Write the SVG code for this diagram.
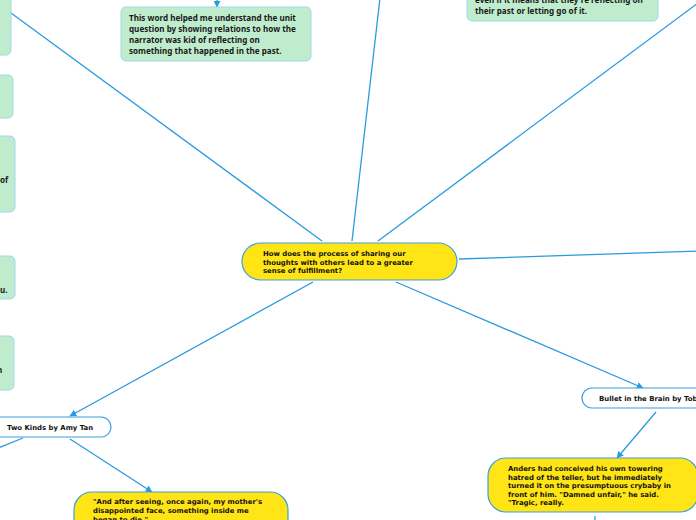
<svg xmlns="http://www.w3.org/2000/svg" width="696" height="520" viewBox="0 0 696 520">
<defs>
<marker id="ah" viewBox="0 0 10 10" refX="9" refY="5" markerWidth="7" markerHeight="7" orient="auto" markerUnits="userSpaceOnUse">
<path d="M0,0 L10,5 L0,10 z" fill="#2b9be0"/>
</marker>
<style>
.ln{stroke:#2b9be0;stroke-width:1.3;fill:none}
.arr{marker-end:url(#ah)}
.grn{fill:#c0ecce;stroke:#9dd8ea;stroke-width:1}
.yel{fill:#ffe516;stroke:#3aa0e0;stroke-width:1.2}
.wht{fill:#ffffff;stroke:#3aa0e0;stroke-width:1.2}
.gt{font-family:"Noto Sans","Open Sans",sans-serif;font-weight:bold;font-size:8.1px;fill:#1a1a1a}
.pt{font-family:"DejaVu Sans",Verdana,sans-serif;font-weight:bold;font-size:6.9px;fill:#111}
</style>
</defs>
<g id="connectors">
<line class="ln" x1="11" y1="13" x2="322" y2="241"/>
<line class="ln" x1="380" y1="-2" x2="352" y2="241"/>
<line class="ln" x1="698" y1="3" x2="378" y2="241"/>
<line class="ln" x1="459" y1="259" x2="698" y2="251"/>
<line class="ln arr" x1="396" y1="282" x2="643" y2="388"/>
<line class="ln arr" x1="313" y1="282" x2="70" y2="416"/>
<line class="ln arr" x1="70" y1="439" x2="152" y2="492"/>
<line class="ln" x1="23" y1="438" x2="-2" y2="448"/>
<line class="ln arr" x1="656" y1="412" x2="617" y2="458"/>
<line class="ln" x1="595" y1="516" x2="595" y2="522"/>
<line class="ln arr" x1="217" y1="-5" x2="217" y2="7"/>
</g>
<g id="g1"><rect class="grn" x="-20" y="-20" width="31" height="75" rx="5"/></g>
<g id="g2"><rect class="grn" x="-20" y="75" width="33" height="43" rx="5"/></g>
<g id="g3"><rect class="grn" x="-20" y="136" width="35" height="76" rx="5"/><text class="gt" x="0" y="183">of</text></g>
<g id="g4"><rect class="grn" x="-20" y="256" width="35" height="43" rx="5"/><text class="gt" x="0" y="293">u.</text></g>
<g id="g5"><rect class="grn" x="-20" y="336" width="34" height="54" rx="5"/><text class="gt" x="-3" y="373">n</text></g>
<g id="gtop"><rect class="grn" x="121" y="7" width="190" height="54" rx="5"/>
<text class="gt" x="129" y="21">This word helped me understand the unit</text>
<text class="gt" x="129" y="32">question by showing relations to how the</text>
<text class="gt" x="129" y="43">narrator was kid of reflecting on</text>
<text class="gt" x="129" y="54">something that happened in the past.</text></g>
<g id="gtr"><rect class="grn" x="467" y="-30" width="191" height="51" rx="5"/>
<text class="gt" x="475" y="3">even if it means that they're reflecting on</text>
<text class="gt" x="475" y="14">their past or letting go of it.</text></g>
<g id="central"><rect class="yel" x="242" y="243" width="215" height="37" rx="18.5"/>
<text class="pt" x="263" y="256">How does the process of sharing our</text>
<text class="pt" x="263" y="265">thoughts with others lead to a greater</text>
<text class="pt" x="263" y="273">sense of fulfillment?</text></g>
<g id="twokinds"><rect class="wht" x="-20" y="417" width="131" height="20" rx="10"/>
<text class="pt" x="7" y="430">Two Kinds by Amy Tan</text></g>
<g id="bullet"><rect class="wht" x="582" y="388" width="140" height="20" rx="10"/>
<text class="pt" x="599" y="401">Bullet in the Brain by Tobias Wolff</text></g>
<g id="anders"><rect class="yel" x="488" y="458" width="210" height="54" rx="18"/>
<text class="pt" x="508" y="471">Anders had conceived his own towering</text>
<text class="pt" x="508" y="479.5">hatred of the teller, but he immediately</text>
<text class="pt" x="508" y="488">turned it on the presumptuous crybaby in</text>
<text class="pt" x="508" y="496.5">front of him. "Damned unfair," he said.</text>
<text class="pt" x="508" y="505">"Tragic, really.</text></g>
<g id="quote"><rect class="yel" x="74" y="492" width="214" height="50" rx="18"/>
<text class="pt" x="93" y="504">"And after seeing, once again, my mother's</text>
<text class="pt" x="93" y="513">disappointed face, something inside me</text>
<text class="pt" x="93" y="522">began to die."</text></g>
</svg>
